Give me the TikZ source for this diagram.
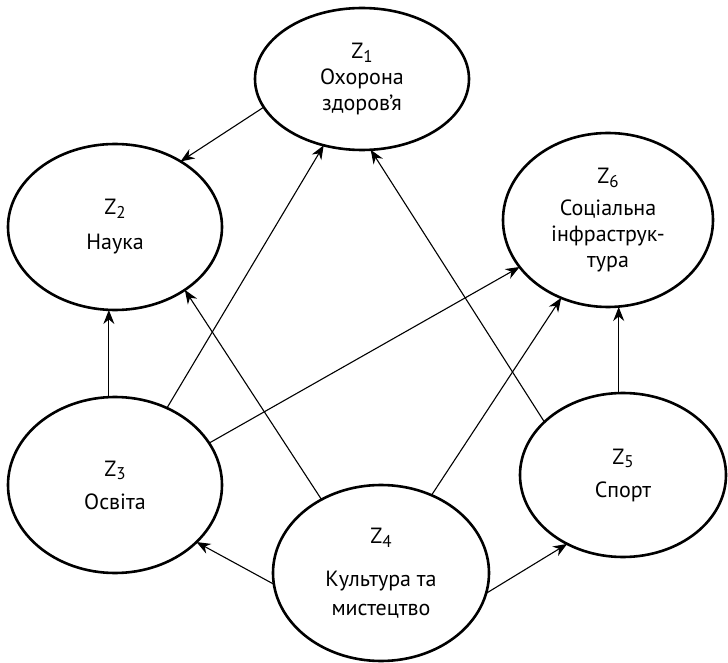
\documentclass[tikz,border=0pt]{standalone}
\usepackage{fontspec}
\setmainfont{PT Sans}
\usetikzlibrary{shapes.geometric,arrows.meta}
\newcommand{\zlab}[1]{Z\raisebox{-0.35ex}{\fontsize{8.5}{8.5}\selectfont #1}}
\begin{document}
\begin{tikzpicture}[x=0.5pt,y=-0.5pt,
  zell/.style={draw, ellipse, line width=1.3pt, inner sep=0pt, outer sep=0pt,
    align=center, font=\fontsize{11}{13}\selectfont},
  conn/.style={line width=0.55pt, -{Stealth[length=7pt,width=5.5pt]}}]
\useasboundingbox (0,0) rectangle (728,663);
\node[zell, minimum width=107pt, minimum height=71pt] (z1) at (362,79) {\zlab{1}\\Охорона\\здоров’я};
\node[zell, minimum width=107pt, minimum height=83pt] (z2) at (115,227) {\zlab{2}\\[4.5pt]Наука};
\node[zell, minimum width=107pt, minimum height=88pt] (z3) at (115,485) {\zlab{3}\\[3.5pt]Освіта};
\node[zell, minimum width=108pt, minimum height=88pt] (z4) at (381,573) {\zlab{4}\\[8.5pt]Культура та\\[1.5pt]мистецтво};
\node[zell, minimum width=103pt, minimum height=82pt] (z5) at (623,475) {\zlab{5}\\[3.5pt]Спорт};
\node[zell, minimum width=105pt, minimum height=87pt] (z6) at (608,220) {\zlab{6}\\[3pt]Соціальна\\інфраструк-\\тура};
\draw[conn] (z1.196.2) -- (z2.45.4);
\draw[conn] (z3.94.5) -- (z3.94.5 |- z2.south);
\draw[conn] (z3.56.3) -- (z1.240.5);
\draw[conn] (z3.24.6) -- (z6.208.3);
\draw[conn] (z4.129.1) -- (z2.318.4);
\draw[conn] (z4.57) -- (z6.239.4);
\draw[conn] (z5.146.5) -- (z1.277.8);
\draw[conn] (z5.93.5) -- (z5.93.5 |- z6.south);
\draw[conn] (z4.186.3) -- (z3.325.1);
\draw[conn] (z4.349.4) -- (z5.231.8);
\end{tikzpicture}
\end{document}
